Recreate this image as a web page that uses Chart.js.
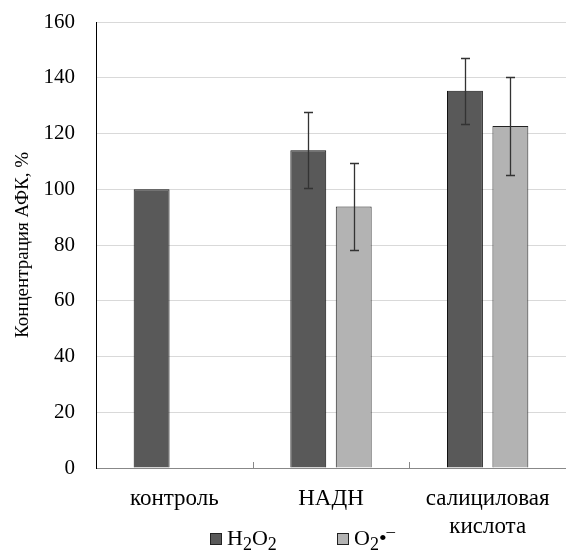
<!DOCTYPE html>
<html>
<head>
<meta charset="utf-8">
<script src="https://cdn.jsdelivr.net/npm/chart.js@4"></script>
<style>
  html, body { margin: 0; padding: 0; background: #fff; }
  #wrap { width: 566px; height: 552px; position: relative; }
</style>
</head>
<body>
<div id="wrap"><canvas id="chart"></canvas></div>
<script>
const categories = ['контроль', 'НАДН', ['салициловая', 'кислота']]
const seriesNames = ['H₂O₂', 'O₂•⁻']
const h2o2Values = [100, 114, 135.3]
const h2o2Errors = [null, 13.7, 11.8]
const o2Values = [null, 93.8, 122.7]
const o2Errors = [null, 15.5, 17.6]
const yTicks = [0, 20, 40, 60, 80, 100, 120, 140, 160]

const SERIF = '"Liberation Serif", "Times New Roman", serif'
Chart.defaults.font.family = SERIF
Chart.defaults.font.size = 21
Chart.defaults.color = '#000'

// error bars from dataset.errors, drawn at each bar's own position
const errorBars = {
  id: 'errorBars',
  afterDatasetsDraw(chart) {
    const {ctx, scales: {y}} = chart
    chart.data.datasets.forEach((ds, di) => {
      const meta = chart.getDatasetMeta(di)
      meta.data.forEach((bar, i) => {
        const v = ds.data[i], e = ds.errors[i]
        if (v == null || e == null) return
        const top = Math.round(y.getPixelForValue(v + e)) + 0.5
        const bot = Math.round(y.getPixelForValue(v - e)) + 0.5
        const cx = Math.round(bar.x) + 0.5
        ctx.save()
        ctx.strokeStyle = '#333'
        ctx.lineWidth = 1.3
        ctx.beginPath()
        ctx.moveTo(cx, top); ctx.lineTo(cx, bot)
        ctx.moveTo(cx - 4.5, top); ctx.lineTo(cx + 4.5, top)
        ctx.moveTo(cx - 4.5, bot); ctx.lineTo(cx + 4.5, bot)
        ctx.stroke()
        ctx.restore()
      })
    })
  },
}

// inward tick marks between categories on the x axis
const xTickMarks = {
  id: 'xTickMarks',
  afterDraw(chart) {
    const {ctx, scales: {x}} = chart
    const step = (x.right - x.left) / categories.length
    ctx.save()
    ctx.strokeStyle = '#888'
    ctx.lineWidth = 1
    ctx.beginPath()
    for (let i = 1; i < categories.length; i++) {
      const px = Math.round(x.left + step * i) + 0.5
      ctx.moveTo(px, x.top)
      ctx.lineTo(px, x.top - 6)
    }
    ctx.stroke()
    ctx.restore()
  },
}

// legend under the axis labels, with real sub/superscripts
function drawRich(ctx, text, x, baseline) {
  for (const ch of text) {
    let t = ch, size = 22, dy = 0
    if (ch === '₂') { t = '2'; size = 18; dy = 5 }
    if (ch === '⁻') { t = '–'; size = 17; dy = -9 }
    ctx.font = `${size}px ${SERIF}`
    ctx.fillText(t, x, baseline + dy)
    x += ctx.measureText(t).width
  }
  return x
}

const bottomLegend = {
  id: 'bottomLegend',
  afterDraw(chart) {
    const {ctx} = chart
    const xs = [210, 337]
    const boxTop = 533
    const baseline = 545
    ctx.save()
    ctx.textBaseline = 'alphabetic'
    chart.data.datasets.forEach((ds, i) => {
      ctx.fillStyle = ds.backgroundColor
      ctx.fillRect(xs[i], boxTop, 12, 12)
      ctx.strokeStyle = '#222'
      ctx.lineWidth = 1
      ctx.strokeRect(xs[i] + 0.5, boxTop + 0.5, 11, 11)
      ctx.fillStyle = '#000'
      drawRich(ctx, ds.label, xs[i] + 17, baseline)
    })
    ctx.restore()
  },
}

new Chart(document.getElementById('chart'), {
  type: 'bar',
  data: {
    labels: categories,
    datasets: [
      {
        label: seriesNames[0],
        data: h2o2Values,
        errors: h2o2Errors,
        backgroundColor: '#595959',
        borderColor: '#111',
        borderWidth: 1,
      },
      {
        label: seriesNames[1],
        data: o2Values,
        errors: o2Errors,
        backgroundColor: '#b3b3b3',
        borderColor: '#222',
        borderWidth: 1,
      },
    ],
  },
  options: {
    responsive: true,
    maintainAspectRatio: false,
    animation: false,
    categoryPercentage: 0.58,
    barPercentage: 0.79,
    layout: {padding: {top: 0, left: 8, right: -3, bottom: 0}},
    plugins: {
      legend: {display: false},
      tooltip: {enabled: false},
    },
    scales: {
      x: {
        grid: {display: false},
        border: {color: '#888'},
        ticks: {
          padding: 9,
          maxRotation: 0,
          autoSkip: false,
          font: {size: 23, lineHeight: 1.22},
        },
        afterFit: axis => {
          axis.height = 84
        },
      },
      y: {
        min: 0,
        max: 160,
        afterBuildTicks: axis => {
          axis.ticks = yTicks.map(v => ({value: v}))
        },
        afterFit: axis => {
          axis.width = 88
          axis.paddingTop = 22
        },
        grid: {color: '#d9d9d9', drawTicks: false},
        border: {color: '#000'},
        ticks: {padding: 21},
        title: {
          display: true,
          text: 'Концентрация АФК, %',
          font: {size: 19},
          padding: {top: 4, bottom: 4},
        },
      },
    },
  },
  plugins: [errorBars, xTickMarks, bottomLegend],
})
</script>
</body>
</html>
